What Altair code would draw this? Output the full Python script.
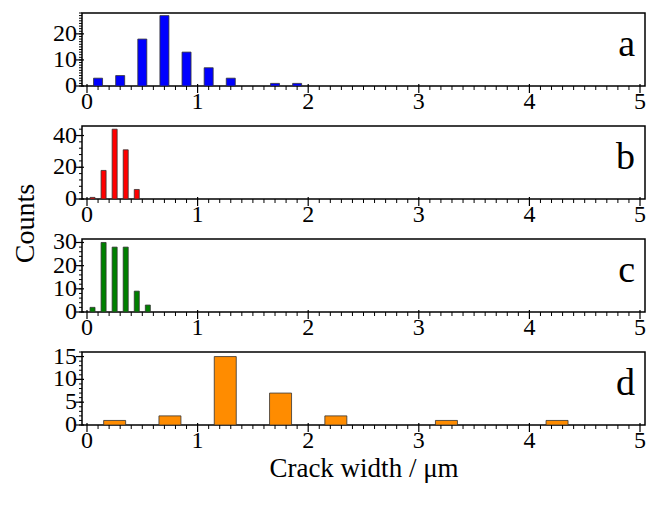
import altair as alt
import pandas as pd

# ---- data ----
x_a = [0.1, 0.3, 0.5, 0.7, 0.9, 1.1, 1.3, 1.7, 1.9]
n_a = [3, 4, 18, 27, 13, 7, 3, 1, 1]
x_b = [0.05, 0.15, 0.25, 0.35, 0.45]
n_b = [1, 18, 44, 31, 6]
x_c = [0.05, 0.15, 0.25, 0.35, 0.45, 0.55]
n_c = [2, 30, 28, 28, 9, 3]
x_d = [0.25, 0.75, 1.25, 1.75, 2.25, 3.25, 4.25]
n_d = [1, 2, 15, 7, 2, 1, 1]

# tick positions / labels
x_major = [0, 1, 2, 3, 4, 5]
x_minor = [i / 10 for i in range(51) if i % 10]
y_major_a = [0, 10, 20]
y_minor_a = list(range(0, 29, 1))
y_major_b = [0, 20, 40]
y_minor_b = list(range(0, 47, 4))
y_major_c = [0, 10, 20, 30]
y_minor_c = list(range(0, 32, 2))
y_major_d = [0, 5, 10, 15]
y_minor_d = list(range(0, 17, 1))

FONT = "Liberation Serif"
W, H = 563, 73
XDOM = [0, 5]


def panel(xs, ns, color, barsize, ymax, ymaj, ymin, letter, ytitle=None, xtitle=None):
    xs_ = alt.Scale(domain=XDOM, nice=False, zero=False)
    ys_ = alt.Scale(domain=[0, ymax], nice=False)

    xkw = dict(labels=False, ticks=False, domain=False, grid=False)
    if xtitle:
        xkw.update(title=xtitle, titleX=W / 2, titleY=43, titleAlign="center",
                   titleBaseline="middle", titleFontSize=27, titleFont=FONT,
                   titleFontWeight="normal", titleColor="black")
    else:
        xkw.update(title=None)
    ykw = dict(labels=False, ticks=False, domain=False, grid=False)
    if ytitle:
        ykw.update(title=ytitle, titleX=-57, titleY=97, titleAlign="center",
                   titleBaseline="middle", titleAngle=-90, titleFontSize=28,
                   titleFont=FONT, titleFontWeight="normal", titleColor="black")
    else:
        ykw.update(title=None)

    df = pd.DataFrame({"x": xs, "n": ns})
    bars = alt.Chart(df).mark_bar(
        size=barsize, color=color, stroke="#333333", strokeWidth=0.8
    ).encode(
        x=alt.X("x:Q", scale=xs_, axis=alt.Axis(**xkw)),
        y=alt.Y("n:Q", scale=ys_, axis=alt.Axis(**ykw)),
    )

    # x ticks & labels
    xmin_df = pd.DataFrame({"v": x_minor})
    xmaj_df = pd.DataFrame({"v": x_major, "lab": [str(v) for v in x_major]})
    xt_min = alt.Chart(xmin_df).mark_rule(color="black", strokeWidth=1).encode(
        x=alt.X("v:Q", scale=xs_), y=alt.value(H), y2=alt.value(H + 4))
    xt_maj = alt.Chart(xmaj_df).mark_rule(color="black", strokeWidth=1.2).encode(
        x=alt.X("v:Q", scale=xs_), y=alt.value(H - 2), y2=alt.value(H + 7))
    xl = alt.Chart(xmaj_df).mark_text(
        font=FONT, fontSize=24, color="black", align="center", baseline="middle"
    ).encode(x=alt.X("v:Q", scale=xs_), y=alt.value(H + 16), text="lab:N")

    # y ticks & labels
    ymin_df = pd.DataFrame({"v": ymin})
    ymaj_df = pd.DataFrame({"v": ymaj, "lab": [str(v) for v in ymaj]})
    yt_min = alt.Chart(ymin_df).mark_rule(color="black", strokeWidth=1).encode(
        y=alt.Y("v:Q", scale=ys_), x=alt.value(0), x2=alt.value(-3))
    yt_maj = alt.Chart(ymaj_df).mark_rule(color="black", strokeWidth=1.2).encode(
        y=alt.Y("v:Q", scale=ys_), x=alt.value(2), x2=alt.value(-6))
    yl = alt.Chart(ymaj_df).mark_text(
        font=FONT, fontSize=24, color="black", align="right", baseline="middle"
    ).encode(y=alt.Y("v:Q", scale=ys_), x=alt.value(-5), text="lab:N")

    lab = alt.Chart(pd.DataFrame({"t": [letter]})).mark_text(
        font=FONT, fontSize=38, align="right", baseline="middle", color="black"
    ).encode(text="t:N", x=alt.value(553), y=alt.value(32))

    return alt.layer(bars, xt_min, xt_maj, xl, yt_min, yt_maj, yl, lab).properties(
        width=W, height=H)


pa = panel(x_a, n_a, "#0000FF", 9, 28, y_major_a, y_minor_a, "a")
pb = panel(x_b, n_b, "#FF0000", 5, 46, y_major_b, y_minor_b, "b", ytitle="Counts")
pc = panel(x_c, n_c, "#008000", 5, 31.5, y_major_c, y_minor_c, "c")
pd_ = panel(x_d, n_d, "#FF8C00", 22, 16, y_major_d, y_minor_d, "d", xtitle="Crack width / μm")

chart = alt.vconcat(pa, pb, pc, pd_, spacing=40, bounds="flush").properties(
    padding={"left": 10, "top": 11, "right": 5, "bottom": 5}
).configure_view(
    stroke="black", strokeWidth=1.5
)

chart.save("out.html", embed_options={"renderer": "svg", "actions": False})
